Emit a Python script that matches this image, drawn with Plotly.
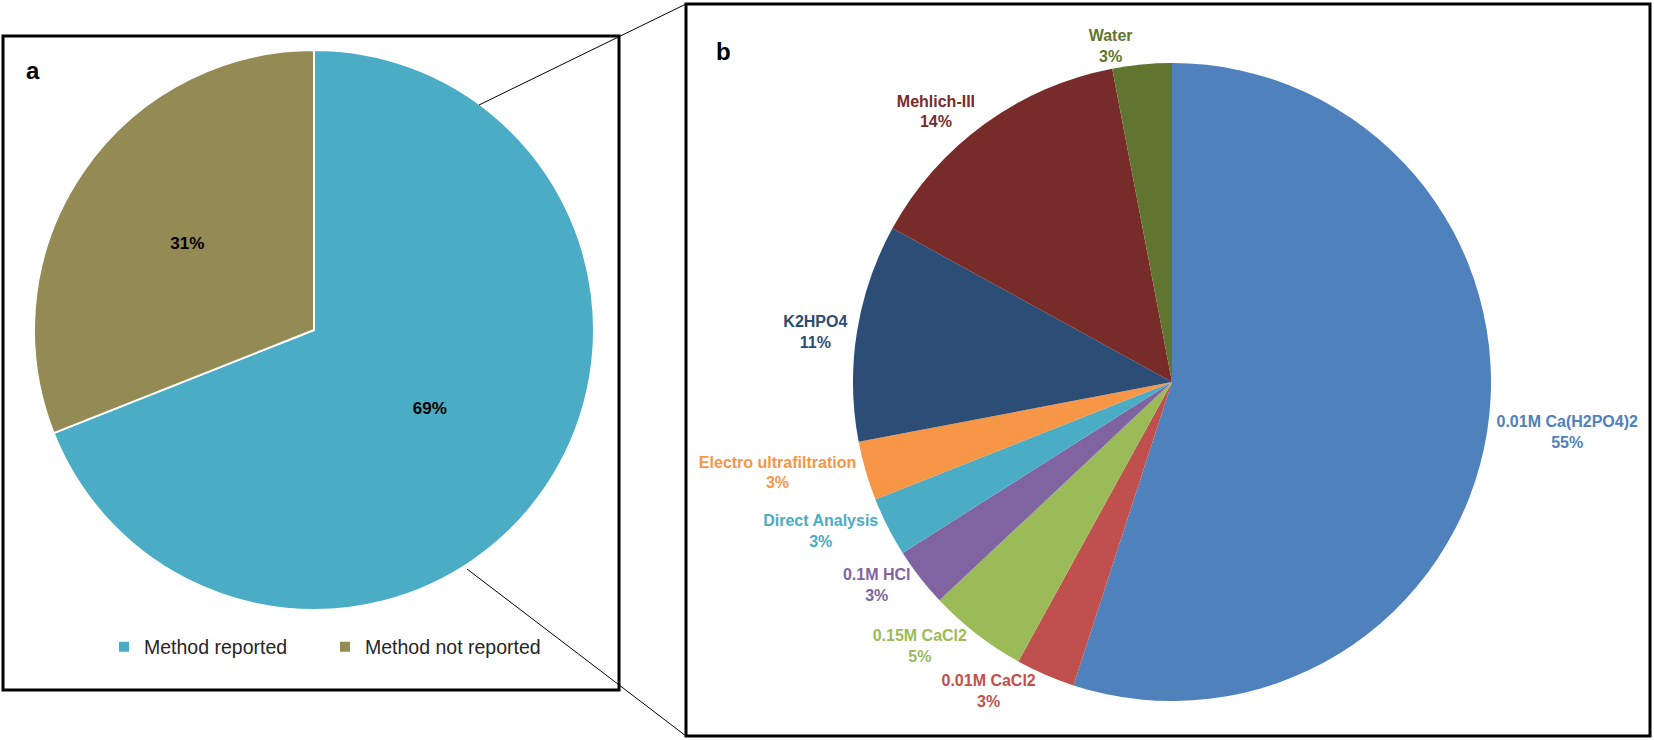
import plotly.graph_objects as go

# ---------------------------------------------------------------
# Daten
# ---------------------------------------------------------------
a_labels = ["Method reported", "Method not reported"]
a_values = [69, 31]
a_colors = ["#4BACC6", "#948A54"]

b_labels = ["0.01M Ca(H2PO4)2", "0.01M CaCl2", "0.15M CaCl2", "0.1M HCl",
            "Direct Analysis", "Electro ultrafiltration", "K2HPO4", "Mehlich-III", "Water"]
b_values = [55, 3, 5, 3, 3, 3, 11, 14, 3]
b_colors = ["#4F81BD", "#C0504D", "#9BBB59", "#8064A2",
            "#4BACC6", "#F79646", "#2C4D75", "#772C2A", "#5F7530"]

W, H = 1654, 740
FONT = "Arial, Liberation Sans, sans-serif"


def px(x):
    return x / W


def py(y):
    return 1 - y / H


fig = go.Figure()

# Panel a
fig.add_trace(go.Pie(
    labels=a_labels, values=a_values, sort=False, direction="clockwise", rotation=0,
    marker=dict(colors=a_colors, line=dict(color="white", width=2)),
    texttemplate="%{percent:.0%}", textposition="inside",
    insidetextorientation="horizontal",
    textfont=dict(family=FONT, size=17, color="black", weight="bold"),
    domain=dict(x=[px(34), px(594)], y=[py(610), py(50)]),
    hoverinfo="label+percent", showlegend=True,
))

# Panel b
fig.add_trace(go.Pie(
    labels=b_labels, values=b_values, sort=False, direction="clockwise", rotation=0,
    marker=dict(colors=b_colors, line=dict(width=0)),
    texttemplate="%{label}<br>%{percent:.0%}", textposition="outside",
    outsidetextfont=dict(family=FONT, size=16, color=b_colors, weight="bold"),
    domain=dict(x=[px(853), px(1491)], y=[py(701), py(63)]),
    hoverinfo="label+percent", showlegend=False,
))

# Rahmen und Verbindungslinien
shapes = [
    dict(type="rect", x0=px(3), x1=px(619), y0=py(690), y1=py(36)),
    dict(type="rect", x0=px(686), x1=px(1650), y0=py(736), y1=py(4)),
]
for s in shapes:
    s.update(xref="paper", yref="paper", line=dict(color="black", width=3), layer="above")
shapes += [
    dict(type="line", xref="paper", yref="paper", x0=px(479), y0=py(105), x1=px(686), y1=py(4),
         line=dict(color="black", width=1)),
    dict(type="line", xref="paper", yref="paper", x0=px(467), y0=py(569), x1=px(686), y1=py(736),
         line=dict(color="black", width=1)),
]

annotations = [
    dict(text="<b>a</b>", x=px(33), y=py(70)),
    dict(text="<b>b</b>", x=px(723), y=py(52)),
]
for a in annotations:
    a.update(xref="paper", yref="paper", showarrow=False, xanchor="center", yanchor="middle",
             font=dict(family=FONT, size=24, color="black"))

fig.update_layout(
    width=W, height=H,
    margin=dict(l=0, r=0, t=0, b=0),
    paper_bgcolor="white", plot_bgcolor="white",
    shapes=shapes, annotations=annotations,
    legend=dict(orientation="h", x=px(104), y=py(647), xanchor="left", yanchor="middle",
                font=dict(family=FONT, size=19.5, color="#262626"),
                entrywidth=176, bgcolor="rgba(0,0,0,0)"),
)

# Browser-Standardrand entfernen, damit die Grafik genau ins Fenster passt
fig.write_html("out.html", config={"displayModeBar": False},
               post_script="document.body.style.margin='0';")
